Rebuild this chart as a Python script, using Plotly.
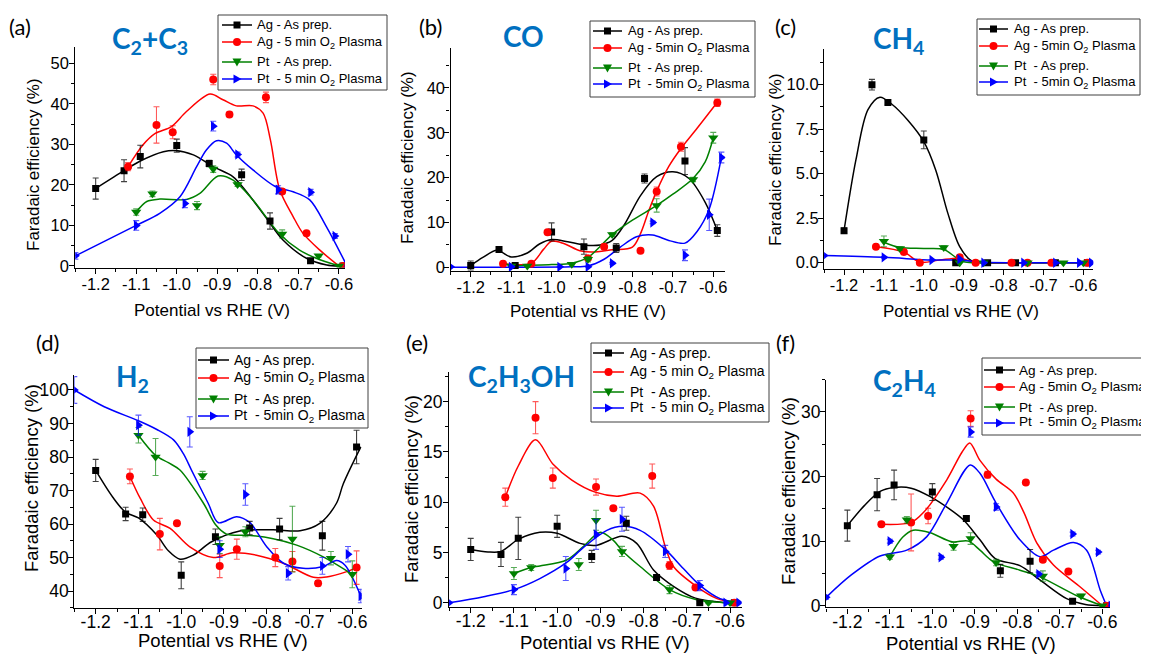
import plotly.graph_objects as go

W, H = 1149, 656
OFF = 8  # the page body adds an 8 px margin around the figure

# ---------------- potentials (V vs RHE) ----------------
X_AG = [-1.20, -1.13, -1.09, -1.00, -0.92, -0.84, -0.77, -0.67, -0.59]
X_AGP = [-1.12, -1.05, -1.01, -0.91, -0.87, -0.78, -0.74, -0.68, -0.59]
X_PT = [-1.10, -1.06, -0.95, -0.91, -0.85, -0.74, -0.65, -0.60]
X_PTP = [-1.25, -1.10, -0.98, -0.91, -0.85, -0.75, -0.67, -0.61, -0.58]

XTICKS = [-1.2, -1.1, -1.0, -0.9, -0.8, -0.7, -0.6]
XTICK_TEXT = ["-1.2", "-1.1", "-1.0", "-0.9", "-0.8", "-0.7", "-0.6"]

# ---------------- (a) C2+C3 ----------------
A_AG_Y = [19.1, 23.5, 27.0, 29.7, 25.3, 22.5, 11.1, 1.3, 0.0]
A_AG_E = [2.6, 2.7, 2.8, 1.6, 0.8, 1.4, 2.0, 0.5, 0.0]
A_AGP_Y = [24.5, 34.8, 33.0, 46.0, 37.4, 41.6, 18.4, 8.1, 0.0]
A_AGP_E = [1.0, 4.5, 1.6, 1.3, 0.6, 1.3, 0.5, 0.4, 0.0]
A_PT_Y = [13.3, 17.8, 14.9, 23.9, 20.1, 7.9, 2.5, 0.0]
A_PT_E = [0.8, 0.7, 1.0, 0.8, 0.5, 1.0, 0.3, 0.0]
A_PTP_Y = [2.5, 10.0, 15.4, 34.5, 27.5, 18.8, 18.2, 7.4, 0.0]
A_PTP_E = [0.8, 1.2, 1.0, 1.2, 0.6, 1.0, 0.7, 0.6, 0.0]
A_AG_FX = [-1.20, -1.13, -1.09, -1.033, -1.003, -0.959, -0.91, -0.861, -0.828, -0.779, -0.738, -0.68, -0.63, -0.60]
A_AG_FY = [19.1, 23.5, 25.9, 28.2, 28.5, 27.4, 24.5, 22.0, 18.3, 11.8, 6.4, 1.9, 0.25, 0.0]
A_AGP_FX = [-1.12, -1.083, -1.053, -1.013, -0.976, -0.918, -0.886, -0.853, -0.812, -0.787, -0.769, -0.746, -0.713, -0.689, -0.647, -0.60]
A_AGP_FY = [24.5, 29.9, 32.7, 34.4, 38.1, 42.4, 41.0, 39.5, 39.5, 37.7, 31.1, 18.8, 12.2, 8.1, 3.9, 0.0]
A_PT_FX = [-1.10, -1.074, -1.042, -0.976, -0.943, -0.898, -0.861, -0.812, -0.748, -0.697, -0.656, -0.60]
A_PT_FY = [13.3, 15.9, 16.5, 16.4, 17.9, 22.2, 21.2, 16.3, 8.1, 3.9, 1.9, 0.0]
A_PTP_FX = [-1.25, -1.10, -1.042, -0.992, -0.951, -0.927, -0.902, -0.877, -0.854, -0.812, -0.757, -0.713, -0.672, -0.631, -0.58]
A_PTP_FY = [2.5, 10.0, 13.0, 17.1, 24.5, 28.6, 30.9, 30.3, 27.5, 23.7, 19.6, 18.3, 16.3, 9.7, 0.0]

# ---------------- (b) CO ----------------
B_AG_Y = [0.4, 4.0, 0.4, 7.9, 4.6, 4.3, 19.8, 23.7, 8.2]
B_AG_E = [1.0, 0.4, 0.3, 2.0, 1.7, 1.0, 1.0, 3.0, 1.3]
B_AGP_Y = [0.8, 0.8, 7.8, 2.0, 4.6, 3.7, 16.9, 26.9, 36.7]
B_AGP_E = [0.3, 0.3, 0.4, 0.3, 0.3, 0.3, 1.0, 1.0, 0.8]
B_PT_Y = [0.3, 0.3, 0.7, 1.8, 7.3, 13.8, 19.6, 28.9]
B_PT_E = [0.2, 0.2, 0.2, 0.6, 0.4, 1.5, 0.5, 1.2]
B_PTP_Y = [0.1, 0.1, 0.1, 0.1, 0.9, 10.0, 2.7, 11.7, 24.5]
B_PTP_E = [0.1, 0.1, 0.1, 0.1, 0.2, 0.3, 1.2, 3.5, 1.2]
B_AG_FX = [-1.20, -1.17, -1.135, -1.10, -1.06, -1.03, -1.00, -0.96, -0.92, -0.88, -0.85, -0.82, -0.78, -0.74, -0.70, -0.66, -0.62, -0.59]
B_AG_FY = [0.4, 2.2, 3.8, 2.3, 3.2, 5.2, 6.2, 5.7, 5.0, 5.0, 6.0, 9.5, 16.0, 20.2, 21.3, 19.8, 14.5, 8.2]
B_AGP_FX = [-1.12, -1.05, -1.02, -1.00, -0.97, -0.93, -0.90, -0.85, -0.80, -0.78, -0.76, -0.74, -0.71, -0.68, -0.64, -0.59]
B_AGP_FY = [0.8, 0.9, 4.0, 5.8, 5.3, 3.7, 3.4, 3.9, 4.5, 7.5, 12.5, 17.0, 22.5, 26.5, 31.0, 36.8]
B_PT_FX = [-1.10, -1.00, -0.95, -0.91, -0.85, -0.80, -0.74, -0.70, -0.65, -0.62, -0.60]
B_PT_FY = [0.3, 0.6, 0.9, 2.2, 7.3, 10.5, 13.8, 16.3, 19.8, 23.5, 28.9]
B_PTP_FX = [-1.25, -1.10, -0.95, -0.91, -0.87, -0.83, -0.79, -0.75, -0.71, -0.67, -0.64, -0.61, -0.58]
B_PTP_FY = [0.0, 0.0, 0.1, 0.3, 1.8, 4.5, 6.8, 7.2, 6.0, 5.4, 8.0, 13.0, 24.5]

# ---------------- (c) CH4 ----------------
C_AG_Y = [1.8, 10.0, 9.0, 6.9, 0.0, 0.0, 0.0, 0.0, 0.0]
C_AG_E = [0.15, 0.3, 0.12, 0.5, 0.0, 0.0, 0.0, 0.0, 0.0]
C_AGP_Y = [0.9, 0.6, 0.0, 0.3, 0.0, 0.0, 0.0, 0.0, 0.0]
C_AGP_E = [0.05, 0.05, 0.0, 0.05, 0.0, 0.0, 0.0, 0.0, 0.0]
C_PT_Y = [1.2, 0.8, 0.85, 0.0, 0.0, 0.0, 0.0, 0.0]
C_PT_E = [0.3, 0.1, 0.1, 0.0, 0.0, 0.0, 0.0, 0.0]
C_PTP_Y = [0.4, 0.3, 0.15, 0.2, 0.0, 0.0, 0.0, 0.0, 0.0]
C_PTP_E = [0.0, 0.05, 0.0, 0.0, 0.0, 0.0, 0.0, 0.0, 0.0]
C_AG_FX = [-1.20, -1.17, -1.14, -1.11, -1.08, -1.04, -1.00, -0.97, -0.94, -0.91, -0.88, -0.85, -0.75, -0.59]
C_AG_FY = [1.8, 5.8, 8.6, 9.3, 8.9, 8.0, 6.8, 5.2, 2.8, 0.9, 0.1, 0.0, 0.0, 0.0]
C_AGP_FX = [-1.12, -1.05, -1.01, -0.96, -0.91, -0.87, -0.75, -0.59]
C_AGP_FY = [0.9, 0.6, 0.03, 0.15, 0.25, 0.02, 0.0, 0.0]
C_PT_FX = [-1.10, -1.06, -1.00, -0.95, -0.92, -0.90, -0.87, -0.75, -0.60]
C_PT_FY = [1.15, 0.85, 0.8, 0.75, 0.3, 0.05, 0.0, 0.0, 0.0]
C_PTP_FX = [-1.25, -1.10, -0.98, -0.91, -0.85, -0.75, -0.58]
C_PTP_FY = [0.4, 0.3, 0.15, 0.15, 0.02, 0.0, 0.0]

# ---------------- (d) H2 ----------------
D_AG_Y = [76.0, 63.0, 62.8, 44.7, 56.2, 58.8, 58.5, 56.5, 83.0]
D_AG_E = [3.3, 2.0, 2.0, 4.0, 2.3, 2.0, 3.2, 4.3, 5.0]
D_AGP_Y = [74.2, 57.0, 60.2, 47.5, 52.5, 50.0, 48.8, 42.3, 47.0]
D_AGP_E = [2.2, 4.7, 0.5, 3.5, 3.0, 2.7, 3.0, 0.8, 5.0]
D_PT_Y = [86.5, 80.0, 74.5, 53.7, 57.7, 55.5, 49.8, 45.0]
D_PT_E = [2.3, 5.5, 1.2, 2.5, 1.5, 9.8, 2.0, 4.0]
D_PTP_Y = [100.0, 89.5, 87.5, 52.5, 68.8, 45.3, 47.5, 51.0, 38.5]
D_PTP_E = [4.0, 3.0, 4.5, 2.5, 3.2, 2.0, 2.5, 2.3, 2.0]
D_AG_FX = [-1.20, -1.16, -1.13, -1.10, -1.057, -1.03, -1.003, -0.972, -0.929, -0.863, -0.785, -0.722, -0.676, -0.637, -0.621, -0.58]
D_AG_FY = [76.0, 68.0, 63.5, 61.8, 56.7, 52.0, 49.5, 50.7, 54.7, 57.9, 58.3, 58.0, 60.2, 66.2, 72.0, 83.0]
D_AGP_FX = [-1.12, -1.096, -1.065, -1.026, -0.98, -0.925, -0.88, -0.824, -0.761, -0.691, -0.66, -0.613, -0.59]
D_AGP_FY = [74.2, 67.7, 61.2, 58.7, 53.2, 50.0, 51.4, 50.7, 48.3, 44.1, 44.2, 45.8, 47.0]
D_PT_FX = [-1.10, -1.06, -1.03, -1.003, -0.948, -0.919, -0.894, -0.839, -0.785, -0.73, -0.668, -0.60]
D_PT_FY = [86.5, 80.5, 78.3, 76.1, 66.2, 59.7, 57.0, 56.6, 55.6, 53.7, 50.2, 45.0]
D_PTP_FX = [-1.25, -1.18, -1.10, -1.057, -1.018, -0.995, -0.976, -0.937, -0.913, -0.87, -0.84, -0.80, -0.761, -0.715, -0.668, -0.637, -0.617, -0.58]
D_PTP_FY = [100.0, 95.0, 90.8, 88.2, 85.1, 81.0, 76.1, 66.2, 60.4, 62.2, 60.5, 53.2, 48.3, 46.8, 47.3, 49.1, 47.7, 38.5]

# ---------------- (e) C2H3OH ----------------
E_AG_Y = [5.3, 4.8, 6.4, 7.6, 4.6, 7.9, 2.5, 0.0, 0.0]
E_AG_E = [1.1, 1.2, 2.1, 1.1, 0.6, 0.7, 0.1, 0.1, 0.0]
E_AGP_Y = [10.5, 18.4, 12.4, 11.5, 9.4, 12.6, 3.7, 1.5, 0.0]
E_AGP_E = [0.9, 1.6, 1.0, 0.8, 0.2, 1.2, 0.4, 0.1, 0.0]
E_PT_Y = [2.9, 3.5, 3.8, 8.2, 5.1, 1.3, 0.0, 0.0]
E_PT_E = [0.6, 0.3, 0.6, 1.0, 0.5, 0.4, 0.1, 0.0]
E_PTP_Y = [0.0, 1.3, 3.4, 6.8, 8.3, 5.1, 1.7, 0.0, 0.0]
E_PTP_E = [0.0, 0.5, 1.2, 1.5, 1.2, 0.6, 0.5, 0.0, 0.0]
E_AG_FX = [-1.20, -1.16, -1.13, -1.09, -1.04, -1.00, -0.947, -0.91, -0.85, -0.816, -0.777, -0.73, -0.68, -0.62, -0.59]
E_AG_FY = [5.3, 5.05, 5.1, 6.3, 7.0, 6.9, 5.9, 5.7, 6.6, 5.9, 3.25, 1.6, 0.45, 0.05, 0.0]
E_AGP_FX = [-1.12, -1.09, -1.05, -1.01, -0.966, -0.912, -0.862, -0.808, -0.777, -0.75, -0.731, -0.677, -0.63, -0.59]
E_AGP_FY = [10.5, 13.6, 16.2, 13.8, 12.2, 11.0, 10.6, 10.9, 9.6, 5.6, 3.6, 1.6, 0.4, 0.0]
E_PT_FX = [-1.10, -1.06, -1.04, -0.978, -0.939, -0.90, -0.87, -0.85, -0.808, -0.74, -0.677, -0.62, -0.60]
E_PT_FY = [2.9, 3.5, 3.65, 4.25, 5.6, 7.0, 6.2, 5.2, 3.6, 1.3, 0.3, 0.02, 0.0]
E_PTP_FX = [-1.25, -1.17, -1.10, -1.04, -0.978, -0.939, -0.885, -0.848, -0.808, -0.75, -0.708, -0.669, -0.623, -0.58]
E_PTP_FY = [0.0, 0.6, 1.3, 2.4, 4.0, 5.5, 7.2, 7.6, 7.2, 5.3, 3.4, 1.7, 0.4, 0.0]

# ---------------- (f) C2H4 ----------------
F_AG_Y = [12.4, 17.2, 18.7, 17.6, 13.5, 5.4, 6.9, 0.7, 0.0]
F_AG_E = [2.4, 2.5, 2.3, 1.3, 0.4, 1.0, 1.8, 0.2, 0.0]
F_AGP_Y = [12.6, 12.9, 13.9, 29.0, 20.3, 19.1, 7.1, 5.3, 0.0]
F_AGP_E = [0.3, 4.4, 1.2, 1.2, 0.5, 0.3, 0.3, 0.3, 0.0]
F_PT_Y = [7.6, 13.3, 9.2, 10.4, 6.7, 4.6, 1.55, 0.0]
F_PT_E = [0.4, 0.5, 0.6, 0.9, 0.5, 0.8, 0.2, 0.0]
F_PTP_Y = [1.3, 10.0, 7.5, 26.9, 15.3, 4.9, 11.1, 8.3, 0.0]
F_PTP_E = [0.3, 0.3, 0.3, 0.8, 0.5, 0.3, 0.3, 0.3, 0.0]
F_AG_FX = [-1.20, -1.16, -1.123, -1.09, -1.05, -1.005, -0.96, -0.927, -0.888, -0.852, -0.794, -0.747, -0.684, -0.64, -0.60]
F_AG_FY = [12.4, 15.5, 17.7, 18.3, 18.2, 16.9, 15.0, 13.3, 10.2, 7.3, 6.2, 4.0, 1.1, 0.2, 0.0]
F_AGP_FX = [-1.12, -1.05, -1.02, -0.966, -0.93, -0.912, -0.888, -0.85, -0.81, -0.785, -0.754, -0.715, -0.652, -0.60]
F_AGP_FY = [12.6, 12.9, 14.5, 19.5, 23.8, 25.2, 22.5, 19.6, 17.5, 14.5, 9.7, 6.3, 2.9, 0.0]
F_PT_FX = [-1.10, -1.07, -1.045, -1.005, -0.954, -0.915, -0.888, -0.856, -0.794, -0.748, -0.66, -0.60]
F_PT_FY = [7.6, 10.6, 11.7, 11.3, 9.9, 10.0, 8.6, 6.8, 5.5, 4.5, 1.55, 0.0]
F_PTP_FX = [-1.25, -1.19, -1.123, -1.06, -1.013, -0.966, -0.911, -0.888, -0.85, -0.794, -0.747, -0.715, -0.668, -0.637, -0.605, -0.59]
F_PTP_FY = [1.3, 4.8, 7.7, 8.6, 10.7, 15.9, 21.8, 20.5, 15.9, 10.2, 7.6, 8.6, 9.8, 8.6, 2.4, 0.0]

# ---------------- styling ----------------
TITLE_BLUE = "#0070C0"
SANS = "Liberation Sans"
TFONT = "Lato"

SERIES_STYLE = [
    dict(color="#000000", err="rgba(0,0,0,0.75)", symbol="square", size=7),
    dict(color="#FF0000", err="rgba(255,0,0,0.65)", symbol="circle", size=8),
    dict(color="#008000", err="rgba(0,128,0,0.65)", symbol="triangle-down", size=9),
    dict(color="#0000FF", err="rgba(0,0,255,0.65)", symbol="triangle-right", size=9),
]
XS = [X_AG, X_AGP, X_PT, X_PTP]


def names(spaced):
    p = "5 min" if spaced else "5min"
    return ["Ag - As prep.",
            "Ag - %s O<sub>2</sub> Plasma" % p,
            "Pt\u00a0 - As prep.",
            "Pt\u00a0 - %s O<sub>2</sub> Plasma" % p]


PANELS = [
    dict(label="(a)", title="C<sub>2</sub>+C<sub>3</sub>",
         ys=[A_AG_Y, A_AGP_Y, A_PT_Y, A_PTP_Y], es=[A_AG_E, A_AGP_E, A_PT_E, A_PTP_E],
         fx=[A_AG_FX, A_AGP_FX, A_PT_FX, A_PTP_FX], fy=[A_AG_FY, A_AGP_FY, A_PT_FY, A_PTP_FY],
         xr=[-1.25, -0.585], yr=[-0.4, 54], px=[75.4, 345.0], py=[47.1, 267.6],
         yticks=[0, 10, 20, 30, 40, 50], yticktext=["0", "10", "20", "30", "40", "50"], ymin=5,
         spaced=True, lab=(20, 26), tit=(150, 40), ystand=-3, xstand=-4,
         ytit=(34, 165), xtit=(212, 310), fs=16.5, tfs=17,
         box=(218, 15, 387, 90), seg=(222, 252), tx=255, rows=(25, 42, 62, 79), lfs=13),
    dict(label="(b)", title="CO",
         ys=[B_AG_Y, B_AGP_Y, B_PT_Y, B_PTP_Y], es=[B_AG_E, B_AGP_E, B_PT_E, B_PTP_E],
         fx=[B_AG_FX, B_AGP_FX, B_PT_FX, B_PTP_FX], fy=[B_AG_FY, B_AGP_FY, B_PT_FY, B_PTP_FY],
         xr=[-1.25, -0.57], yr=[-0.8, 49], px=[450.5, 725.4], py=[47.6, 270.9],
         yticks=[0, 10, 20, 30, 40], yticktext=["0", "10", "20", "30", "40"], ymin=5,
         spaced=False, lab=(430, 27), tit=(523, 36), ystand=-4, xstand=-4,
         ytit=(407, 158), xtit=(588, 311), fs=16.5, tfs=17,
         box=(590, 21, 755, 97), seg=(593, 622), tx=626, rows=(31, 48, 68, 84), lfs=13),
    dict(label="(c)", title="CH<sub>4</sub>",
         ys=[C_AG_Y, C_AGP_Y, C_PT_Y, C_PTP_Y], es=[C_AG_E, C_AGP_E, C_PT_E, C_PTP_E],
         fx=[C_AG_FX, C_AGP_FX, C_PT_FX, C_PTP_FX], fy=[C_AG_FY, C_AGP_FY, C_PT_FY, C_PTP_FY],
         xr=[-1.25, -0.575], yr=[-0.37, 12], px=[824.1, 1093.3], py=[49.1, 269.3],
         yticks=[0, 2.5, 5, 7.5, 10], yticktext=["0.0", "2.5", "5.0", "7.5", "10.0"], ymin=1.25,
         spaced=False, lab=(785, 26), tit=(898, 40), ystand=-4, xstand=-4,
         ytit=(775, 160), xtit=(961, 311), fs=16.5, tfs=17,
         box=(977, 19, 1140, 95), seg=(979, 1008), tx=1012, rows=(29, 46, 66, 82), lfs=13),
    dict(label="(d)", title="H<sub>2</sub>",
         ys=[D_AG_Y, D_AGP_Y, D_PT_Y, D_PTP_Y], es=[D_AG_E, D_AGP_E, D_PT_E, D_PTP_E],
         fx=[D_AG_FX, D_AGP_FX, D_PT_FX, D_PTP_FX], fy=[D_AG_FY, D_AGP_FY, D_PT_FY, D_PTP_FY],
         xr=[-1.25, -0.578], yr=[35, 104.5], px=[74.3, 361.7], py=[374.9, 607.8],
         yticks=[40, 50, 60, 70, 80, 90, 100], yticktext=["40", "50", "60", "70", "80", "90", "100"], ymin=5,
         spaced=False, lab=(47, 342), tit=(132, 378), ystand=-4, xstand=-7,
         ytit=(31, 478), xtit=(223, 640), fs=17.5, tfs=18.5,
         box=(196, 348, 368, 428), seg=(198, 229), tx=232, rows=(360, 378, 399, 416), lfs=14),
    dict(label="(e)", title="C<sub>2</sub>H<sub>3</sub>OH",
         ys=[E_AG_Y, E_AGP_Y, E_PT_Y, E_PTP_Y], es=[E_AG_E, E_AGP_E, E_PT_E, E_PTP_E],
         fx=[E_AG_FX, E_AGP_FX, E_PT_FX, E_PTP_FX], fy=[E_AG_FY, E_AGP_FY, E_PT_FY, E_PTP_FY],
         xr=[-1.25, -0.573], yr=[-0.4, 23], px=[449.1, 741.7], py=[371.5, 606.7],
         yticks=[0, 5, 10, 15, 20], yticktext=["0", "5", "10", "15", "20"], ymin=2.5,
         spaced=True, lab=(417, 342), tit=(521, 378), ystand=-3, xstand=-7,
         ytit=(411, 489), xtit=(605, 642), fs=17.5, tfs=18.5,
         box=(591, 343, 769, 422), seg=(593, 624), tx=628, rows=(353, 372, 392, 408), lfs=14),
    dict(label="(f)", title="C<sub>2</sub>H<sub>4</sub>",
         ys=[F_AG_Y, F_AGP_Y, F_PT_Y, F_PTP_Y], es=[F_AG_E, F_AGP_E, F_PT_E, F_PTP_E],
         fx=[F_AG_FX, F_AGP_FX, F_PT_FX, F_PTP_FX], fy=[F_AG_FY, F_AGP_FY, F_PT_FY, F_PTP_FY],
         xr=[-1.25, -0.582], yr=[-0.26, 35], px=[826.1, 1110.0], py=[379.7, 607.4],
         yticks=[0, 10, 20, 30], yticktext=["0", "10", "20", "30"], ymin=5,
         spaced=False, lab=(785, 342), tit=(904, 382), ystand=-4, xstand=-7,
         ytit=(788, 491), xtit=(971, 643), fs=17.5, tfs=18.5,
         box=(982, 358, 1165, 435), seg=(984, 1015), tx=1017, rows=(370, 387, 407, 423), lfs=13.6),
]


def PX(v):
    return (v - OFF) / W


def PY(v):
    return 1 - (v - OFF) / H


def glyph_shape(k, cx, cy, color):
    """Legend swatch marker drawn as a paper-referenced shape (pixel offsets)."""
    base = dict(xref="paper", yref="paper", fillcolor=color, line=dict(width=0), layer="above")
    if k == 0:
        return dict(type="rect", x0=PX(cx - 3.5), x1=PX(cx + 3.5), y0=PY(cy + 3.5), y1=PY(cy - 3.5), **base)
    if k == 1:
        return dict(type="circle", x0=PX(cx - 4), x1=PX(cx + 4), y0=PY(cy + 4), y1=PY(cy - 4), **base)
    if k == 2:
        path = "M %f %f L %f %f L %f %f Z" % (PX(cx - 4.5), PY(cy - 3.5), PX(cx + 4.5), PY(cy - 3.5),
                                              PX(cx), PY(cy + 4.5))
        return dict(type="path", path=path, **base)
    path = "M %f %f L %f %f L %f %f Z" % (PX(cx - 3.5), PY(cy - 4.5), PX(cx - 3.5), PY(cy + 4.5),
                                          PX(cx + 4.5), PY(cy))
    return dict(type="path", path=path, **base)


fig = go.Figure()
layout = dict(width=W, height=H, autosize=False,
              margin=dict(l=0, r=0, t=0, b=0, pad=0, autoexpand=False),
              paper_bgcolor="white", plot_bgcolor="white", showlegend=False,
              annotations=[], shapes=[])

for i, P in enumerate(PANELS):
    n = i + 1
    xa = "x" if n == 1 else "x%d" % n
    ya = "y" if n == 1 else "y%d" % n
    nm = names(P["spaced"])

    # fitted curves
    for k in range(4):
        st = SERIES_STYLE[k]
        fig.add_trace(go.Scatter(
            x=P["fx"][k], y=P["fy"][k], mode="lines", xaxis=xa, yaxis=ya,
            line=dict(color=st["color"], width=1.5, shape="spline", smoothing=0.9),
            showlegend=False, hoverinfo="skip"))
    # data points with error bars
    for k in range(4):
        st = SERIES_STYLE[k]
        fig.add_trace(go.Scatter(
            x=XS[k], y=P["ys"][k], mode="markers", xaxis=xa, yaxis=ya,
            marker=dict(color=st["color"], symbol=st["symbol"], size=st["size"], line=dict(width=0)),
            error_y=dict(type="data", array=P["es"][k], color=st["err"], thickness=1.1, width=3),
            showlegend=False, name=nm[k]))

    xd = [PX(P["px"][0]), PX(P["px"][1])]
    yd = [PY(P["py"][1]), PY(P["py"][0])]
    axis_common = dict(showline=True, linecolor="black", linewidth=1.3, ticks="outside",
                       ticklen=5, tickwidth=1.3, tickcolor="black", showgrid=False,
                       zeroline=False, mirror=False)
    layout["xaxis" if n == 1 else "xaxis%d" % n] = dict(
        domain=xd, range=P["xr"], anchor=ya, tickmode="array",
        tickvals=XTICKS, ticktext=XTICK_TEXT, ticklabelstandoff=P["xstand"],
        tickfont=dict(family=SANS, size=P["fs"], color="black"),
        minor=dict(ticks="outside", ticklen=3, tickwidth=1, tickcolor="black",
                   tickmode="linear", tick0=-1.25, dtick=0.05, showgrid=False),
        **axis_common)
    layout["yaxis" if n == 1 else "yaxis%d" % n] = dict(
        domain=yd, range=P["yr"], anchor=xa, tickmode="array",
        tickvals=P["yticks"], ticktext=P["yticktext"], ticklabelstandoff=P["ystand"],
        tickfont=dict(family=SANS, size=P["fs"], color="black"),
        minor=dict(ticks="outside", ticklen=3, tickwidth=1, tickcolor="black",
                   tickmode="linear", tick0=0, dtick=P["ymin"], showgrid=False),
        **axis_common)

    # legend box drawn as shapes + annotations
    bx0, by0, bx1, by1 = P["box"]
    layout["shapes"].append(dict(type="rect", xref="paper", yref="paper", layer="above",
                                 x0=PX(bx0), x1=PX(bx1), y0=PY(by1), y1=PY(by0),
                                 fillcolor="white", line=dict(color="#404040", width=1)))
    for k in range(4):
        st = SERIES_STYLE[k]
        ry = P["rows"][k]
        s0, s1 = P["seg"]
        layout["shapes"].append(dict(type="line", xref="paper", yref="paper", layer="above",
                                     x0=PX(s0), x1=PX(s1), y0=PY(ry), y1=PY(ry),
                                     line=dict(color=st["color"], width=1.5)))
        layout["shapes"].append(glyph_shape(k, (s0 + s1) / 2.0, ry, st["color"]))
        layout["annotations"].append(dict(
            text=nm[k], x=PX(P["tx"]), y=PY(ry), xref="paper", yref="paper", showarrow=False,
            xanchor="left", yanchor="middle",
            font=dict(family=SANS, size=P["lfs"], color="black")))

    ann = layout["annotations"]
    ann.append(dict(text=P["label"], x=PX(P["lab"][0]), y=PY(P["lab"][1]),
                    xref="paper", yref="paper", showarrow=False, xanchor="center", yanchor="middle",
                    font=dict(family=TFONT, size=22, color="black")))
    ann.append(dict(text="<b>%s</b>" % P["title"], x=PX(P["tit"][0]), y=PY(P["tit"][1]),
                    xref="paper", yref="paper", showarrow=False, xanchor="center", yanchor="middle",
                    font=dict(family=TFONT, size=28, color=TITLE_BLUE)))
    ann.append(dict(text="Faradaic efficiency (%)", x=PX(P["ytit"][0]), y=PY(P["ytit"][1]),
                    xref="paper", yref="paper", showarrow=False, textangle=-90,
                    xanchor="center", yanchor="middle",
                    font=dict(family=SANS, size=P["tfs"], color="black")))
    ann.append(dict(text="Potential vs RHE (V)", x=PX(P["xtit"][0]), y=PY(P["xtit"][1]),
                    xref="paper", yref="paper", showarrow=False,
                    xanchor="center", yanchor="middle",
                    font=dict(family=SANS, size=P["tfs"], color="black")))

fig.update_layout(**layout)
fig.write_html("out.html")
